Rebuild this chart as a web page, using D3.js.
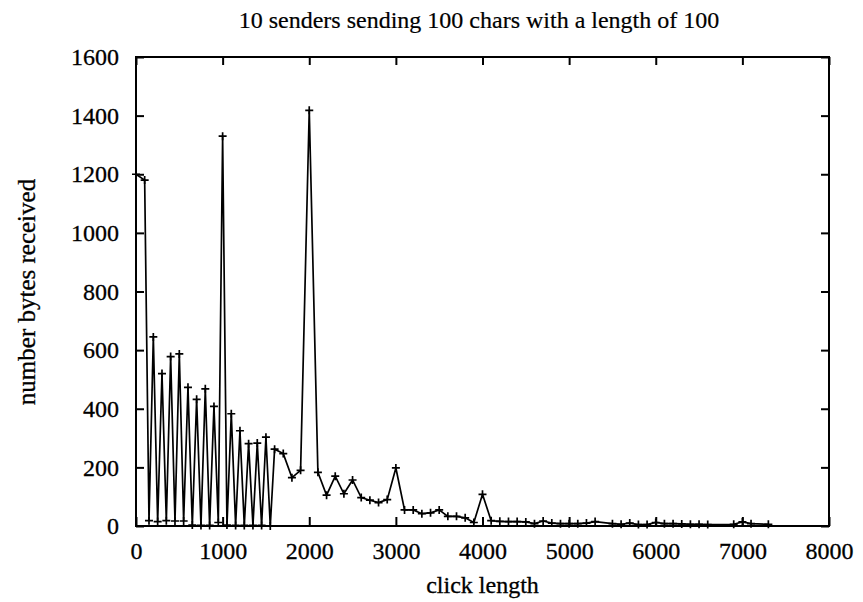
<!DOCTYPE html>
<html>
<head>
<meta charset="utf-8">
<script src="https://cdn.jsdelivr.net/npm/d3@7/dist/d3.min.js"></script>
<style>
  body { margin: 0; background: #fff; }
  text { font-family: "Liberation Serif", "Times New Roman", serif; fill: #000; }
</style>
</head>
<body>
<svg id="svg" width="863" height="602"></svg>
<script>
// click length (x) and bytes received (y)
const clickLength = [
  0, 100, 150, 200, 250, 300, 350, 400, 450, 500, 550, 600, 650, 700, 750, 800,
  850, 900, 950, 1000, 1050, 1100, 1150, 1200, 1250, 1300, 1350, 1400, 1450, 1500,
  1550, 1600, 1700, 1800, 1900, 2000, 2100, 2200, 2300, 2400, 2500, 2600, 2700,
  2800, 2900, 3000, 3100, 3200, 3300, 3400, 3500, 3600, 3700, 3800, 3900, 4000,
  4100, 4200, 4300, 4400, 4500, 4600, 4700, 4800, 4900, 5000, 5100, 5200, 5300,
  5500, 5600, 5700, 5800, 5900, 6000, 6100, 6200, 6300, 6400, 6500, 6600,
  6900, 7000, 7100, 7300
];
const bytesReceived = [
  1200, 1180, 18, 645, 15, 520, 18, 578, 17, 587, 17, 473, 3, 432, 2, 468,
  2, 408, 12, 1330, 3, 383, 2, 325, 2, 281, 2, 283, 2, 303,
  0, 262, 247, 165, 190, 1418, 183, 105, 170, 110, 157, 97, 88,
  80, 90, 198, 55, 55, 42, 45, 55, 33, 33, 28, 12, 108,
  18, 16, 15, 15, 14, 8, 17, 10, 8, 8, 8, 10, 15,
  8, 6, 10, 5, 5, 12, 8, 8, 7, 6, 6, 5,
  6, 14, 8, 6
];
const xTicks = [0, 1000, 2000, 3000, 4000, 5000, 6000, 7000, 8000];
const yTicks = [0, 200, 400, 600, 800, 1000, 1200, 1400, 1600];

const titleText = "10 senders sending 100 chars with a length of 100";
const xLabel = "click length";
const yLabel = "number bytes received";

const svg = d3.select("#svg");
const plotLeft = 136, plotRight = 829, plotTop = 57, plotBottom = 526;

const x = d3.scaleLinear().domain([0, 8000]).range([plotLeft, plotRight]);
const y = d3.scaleLinear().domain([0, 1600]).range([plotBottom, plotTop]);

const points = clickLength.map((c, i) => [c, bytesReceived[i]]);

// axes, ticks pointing inwards like gnuplot
const fontSize = "24px";

const gx = svg.append("g")
  .attr("transform", `translate(0,${plotBottom})`)
  .call(d3.axisBottom(x).tickValues(xTicks).tickSizeInner(-9).tickSizeOuter(0)
        .tickPadding(16).tickFormat(d3.format("d")));

const gy = svg.append("g")
  .attr("transform", `translate(${plotLeft},0)`)
  .call(d3.axisLeft(y).tickValues(yTicks).tickSizeInner(-8).tickSizeOuter(0)
        .tickPadding(17).tickFormat(d3.format("d")));

// mirror ticks top and right
const gxt = svg.append("g")
  .attr("transform", `translate(0,${plotTop})`)
  .call(d3.axisTop(x).tickValues(xTicks).tickSizeInner(-8).tickSizeOuter(0)
        .tickFormat(() => ""));

const gyr = svg.append("g")
  .attr("transform", `translate(${plotRight},0)`)
  .call(d3.axisRight(y).tickValues(yTicks).tickSizeInner(-8).tickSizeOuter(0)
        .tickFormat(() => ""));

[gx, gy, gxt, gyr].forEach(g => {
  g.select(".domain").remove();
  g.selectAll(".tick line").attr("stroke", "#000").attr("stroke-width", 2);
  g.selectAll(".tick text")
    .style("font-family", '"Liberation Serif", "Times New Roman", serif')
    .style("font-size", fontSize)
    .attr("fill", "#000")
    .attr("stroke", "#000")
    .attr("stroke-width", 0.3);
});

// frame
svg.append("rect")
  .attr("x", plotLeft).attr("y", plotTop)
  .attr("width", plotRight - plotLeft).attr("height", plotBottom - plotTop)
  .attr("fill", "none")
  .attr("stroke", "#000")
  .attr("stroke-width", 2);

// data line
const line = d3.line().x(d => x(d[0])).y(d => y(d[1]));
svg.append("path")
  .datum(points)
  .attr("d", line)
  .attr("fill", "none")
  .attr("stroke", "#000")
  .attr("stroke-width", 1.7)
  .attr("stroke-linejoin", "miter");

// "+" markers
const m = 4;
svg.append("g").selectAll("path")
  .data(points)
  .join("path")
  .attr("d", d => {
    const px = x(d[0]), py = y(d[1]);
    return `M${px - m},${py}H${px + m}M${px},${py - m}V${py + m}`;
  })
  .attr("stroke", "#000")
  .attr("stroke-width", 1.7);

// titles
svg.append("text")
  .attr("x", 479).attr("y", 28)
  .attr("text-anchor", "middle")
  .attr("stroke", "#000").attr("stroke-width", 0.2)
  .style("font-size", "24px")
  .text(titleText);

svg.append("text")
  .attr("x", (plotLeft + plotRight) / 2).attr("y", 593)
  .attr("text-anchor", "middle")
  .attr("stroke", "#000").attr("stroke-width", 0.3)
  .style("font-size", "24px")
  .text(xLabel);

svg.append("text")
  .attr("transform", "translate(35,292) rotate(-90)")
  .attr("text-anchor", "middle")
  .attr("stroke", "#000").attr("stroke-width", 0.3)
  .style("font-size", "25px")
  .text(yLabel);
</script>
</body>
</html>
